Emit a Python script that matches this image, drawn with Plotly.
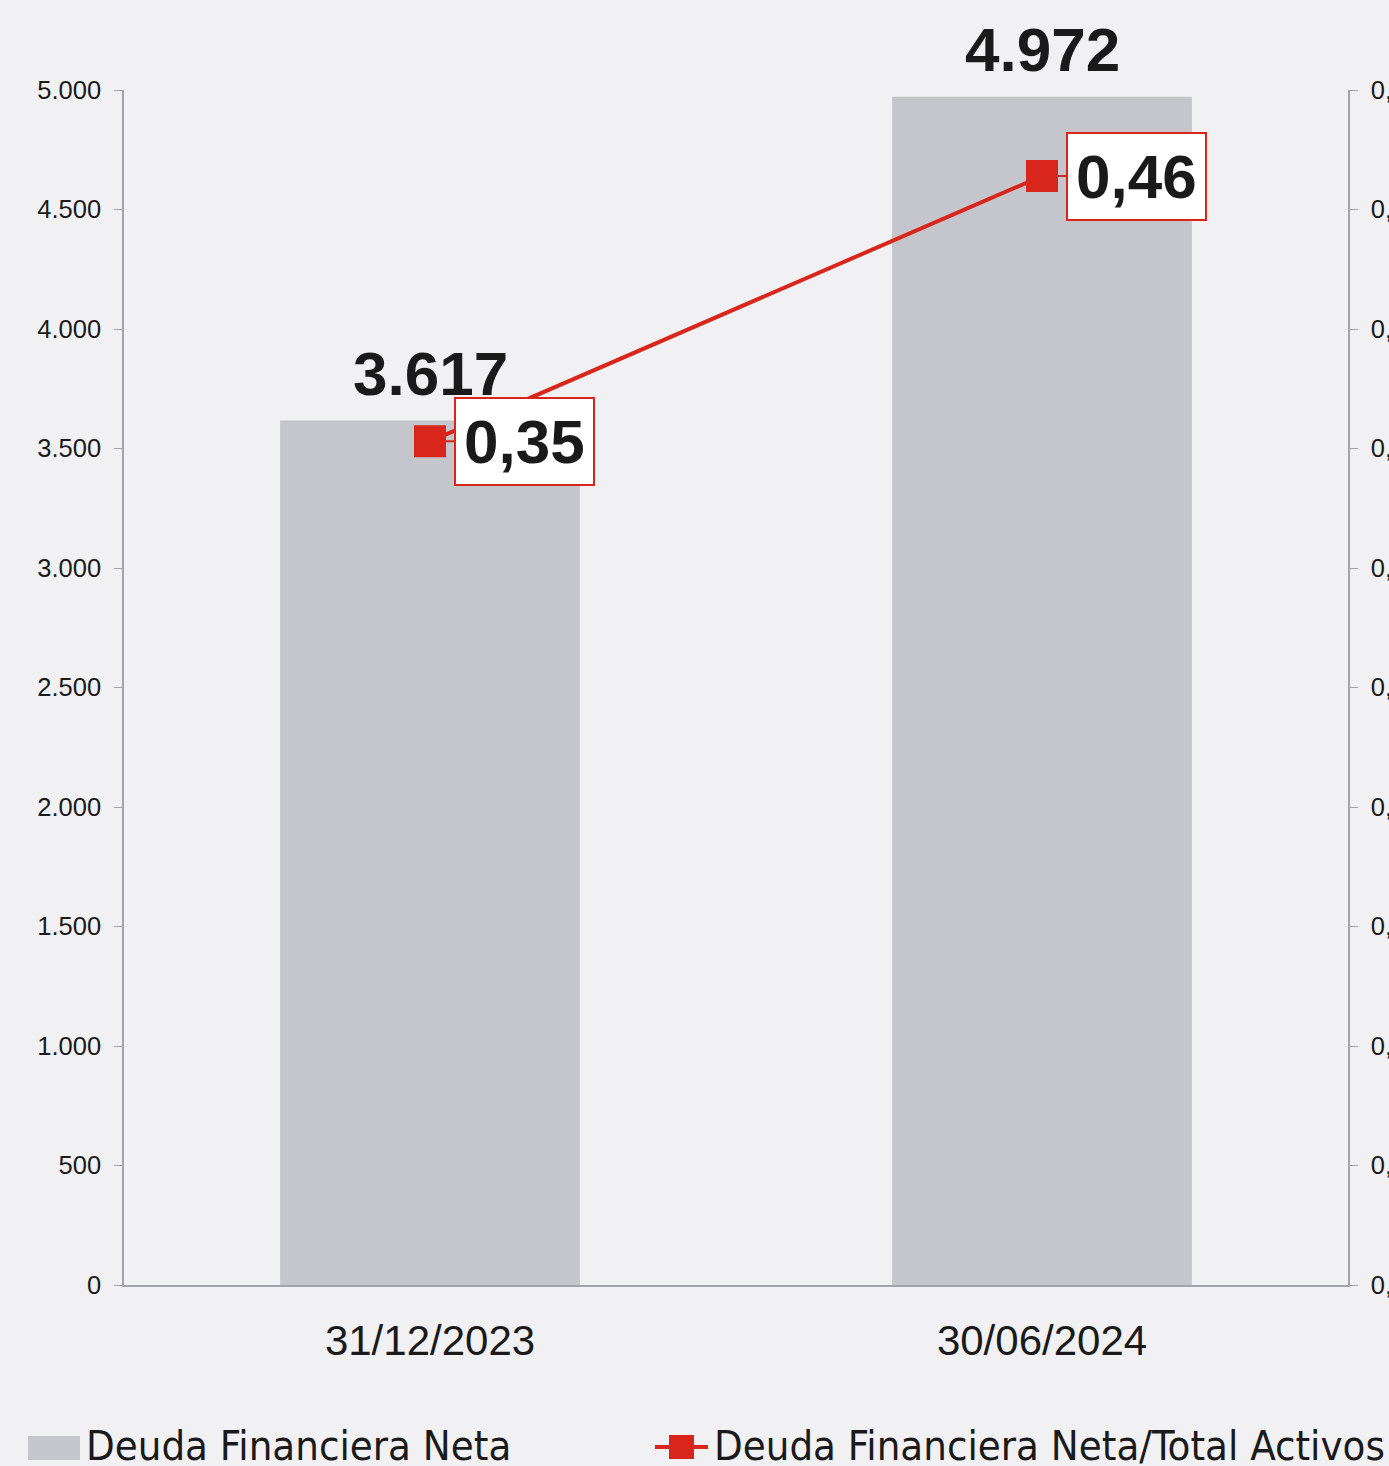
import plotly.graph_objects as go

# data
fechas = ["31/12/2023", "30/06/2024"]
deuda_neta = [3617, 4972]
ratio_activos = [0.353, 0.464]

nombre_barra = "Deuda Financiera Neta"
nombre_linea = "Deuda Financiera Neta/Total Activos"

BG = "#f1f1f3"
GRIS = "#c5c6cb"
ROJO = "#d9261c"
EJE = "#a3a3ab"
TXT = "#1a1a1a"

W, H = 1389, 1466
L, R, T, B = 124, 41, 90, 181


def px_x(p):
    return (p - L) / (W - L - R)


def px_y(p):
    return (H - B - p) / (H - T - B)


fig = go.Figure()

fig.add_trace(go.Bar(
    x=fechas, y=deuda_neta, name=nombre_barra,
    marker=dict(color=GRIS, line=dict(width=0)),
    showlegend=False,
))

fig.add_trace(go.Scatter(
    x=fechas, y=ratio_activos, name=nombre_linea, yaxis="y2",
    mode="lines+markers",
    line=dict(color=ROJO, width=4),
    marker=dict(symbol="square", size=32, color=ROJO),
    cliponaxis=False, showlegend=False,
))

bold = dict(family="Liberation Sans, Arial", size=62, color=TXT, weight="bold")

# value labels above bars
for f, v in zip(fechas, deuda_neta):
    fig.add_annotation(
        x=f, y=v, text=f"{v:,}".replace(",", "."), showarrow=False,
        yanchor="bottom", yshift=12, borderpad=0, font=bold,
    )

# callout labels for the ratio
for f, v in zip(fechas, ratio_activos):
    fig.add_annotation(
        x=f, y=v, yref="y2", text=f"{v:.2f}".replace(".", ","),
        showarrow=True, ax=94, ay=0, arrowhead=0, arrowwidth=2,
        arrowcolor=ROJO, standoff=0,
        bgcolor="white", bordercolor=ROJO, borderwidth=2, borderpad=8,
        font=bold,
    )

# manual legend
fig.add_shape(type="rect", xref="paper", yref="paper",
              x0=px_x(28), x1=px_x(80), y0=px_y(1460), y1=px_y(1436),
              fillcolor=GRIS, line=dict(width=0))
fig.add_shape(type="line", xref="paper", yref="paper",
              x0=px_x(655), x1=px_x(708), y0=px_y(1447), y1=px_y(1447),
              line=dict(color=ROJO, width=4))
fig.add_shape(type="rect", xref="paper", yref="paper",
              x0=px_x(669), x1=px_x(694), y0=px_y(1459), y1=px_y(1435),
              fillcolor=ROJO, line=dict(width=0))
legend_font = dict(family="Liberation Sans Narrow, Arial Narrow, DejaVu Sans Condensed", size=41.5, color=TXT)
fig.add_annotation(xref="paper", yref="paper", x=px_x(84), y=px_y(1445),
                   text=nombre_barra, showarrow=False, xanchor="left", yanchor="middle",
                   font=legend_font)
fig.add_annotation(xref="paper", yref="paper", x=px_x(712), y=px_y(1445),
                   text=nombre_linea, showarrow=False, xanchor="left", yanchor="middle",
                   font=legend_font)

fig.update_layout(
    width=W, height=H,
    margin=dict(l=L, r=R, t=T, b=B, autoexpand=False),
    paper_bgcolor=BG, plot_bgcolor=BG,
    separators=",.",
    bargap=0.51,
    showlegend=False,
    font=dict(family="Liberation Sans, Arial", color=TXT),
    xaxis=dict(
        showline=True, linecolor=EJE, linewidth=2, ticks="",
        tickfont=dict(size=42, color=TXT), ticklabelstandoff=18,
        showgrid=False, zeroline=False,
    ),
    yaxis=dict(
        range=[0, 5000], dtick=500, tickformat=",.0f",
        showline=True, linecolor=EJE, linewidth=1.5,
        ticks="outside", ticklen=8, tickcolor=EJE,
        tickfont=dict(size=25.5, color=TXT), ticklabelstandoff=8,
        showgrid=False, zeroline=False,
    ),
    yaxis2=dict(
        range=[0, 0.5], dtick=0.05, tickformat=".2f",
        overlaying="y", side="right", automargin=False,
        showline=True, linecolor=EJE, linewidth=1.5,
        ticks="outside", ticklen=8, tickcolor=EJE,
        tickfont=dict(size=25.5, color=TXT), ticklabelstandoff=8,
        showgrid=False, zeroline=False,
    ),
)

fig.write_html("out.html", config={"displayModeBar": False},
               post_script="document.body.style.margin='0';")
